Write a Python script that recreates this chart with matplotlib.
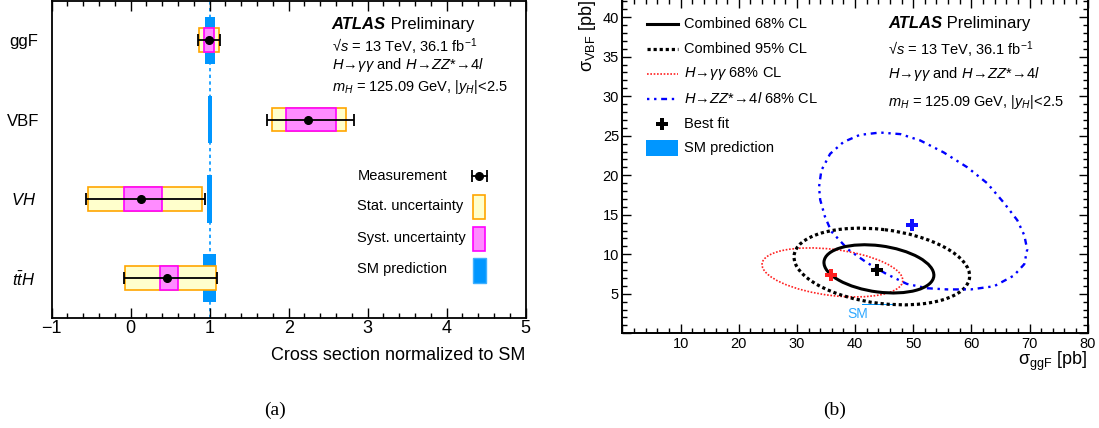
import matplotlib
matplotlib.use("Agg")
import matplotlib.pyplot as plt
from matplotlib.patches import Ellipse, Rectangle
from matplotlib.ticker import MultipleLocator
import numpy as np

plt.rcParams['font.family'] = ['Liberation Sans', 'DejaVu Sans']
plt.rcParams['mathtext.fontset'] = 'custom'
plt.rcParams['mathtext.rm'] = 'Liberation Sans'
plt.rcParams['mathtext.it'] = 'Liberation Sans:italic'
plt.rcParams['mathtext.bf'] = 'Liberation Sans:bold'
plt.rcParams['mathtext.sf'] = 'Liberation Sans'

# ---- (a) cross sections normalised to SM ----
procs = ['ggF', 'VBF', '$VH$', r'$t\bar{t}H$']
mu = [0.99, 2.25, 0.13, 0.46]
tot_lo = [0.85, 1.72, -0.57, -0.08]
tot_hi = [1.13, 2.83, 0.94, 1.09]
stat_lo = [0.86, 1.79, -0.535, -0.075]
stat_hi = [1.12, 2.72, 0.90, 1.075]
syst_lo = [0.925, 1.97, -0.09, 0.365]
syst_hi = [1.055, 2.60, 0.395, 0.605]
sm_unc = [0.065, 0.024, 0.033, 0.08]

# ---- (b) sigma_ggF vs sigma_VBF ----
best_comb = (43.8, 8.0)
best_yy = (35.8, 7.4)
best_zz = (49.8, 13.75)
# ellipse contours: centre x, centre y, half extent x, half extent y, y shift at the x extreme
comb68 = (44.1, 8.15, 9.45, 3.05, -0.8)
comb95 = (44.6, 8.45, 15.1, 4.85, -1.2)
yy68 = (36.1, 7.7, 12.1, 3.1, -1.0)
# H->ZZ*->4l 68% CL contour, read point by point
zz_x = [55.8, 52.4, 48.9, 45.4, 42.0, 38.8, 35.9, 34.8, 34.0, 33.8, 34.2, 35.7, 38.0,
        40.8, 44.3, 47.8, 51.2, 55.2, 59.3, 62.7, 65.6, 67.9, 69.1, 69.6, 69.1, 67.3,
        63.9, 59.9, 55.8]
zz_y = [5.55, 5.7, 6.25, 7.5, 8.95, 10.6, 12.9, 14.8, 16.9, 18.5, 20.6, 22.7, 24.2,
        25.1, 25.4, 25.2, 24.4, 22.9, 21.0, 19.0, 16.5, 14.3, 12.4, 10.6, 8.75, 7.3,
        5.95, 5.55, 5.55]
sm_ggf = (41.2, 46.9)
sm_vbf = (3.52, 3.73)

sm_col = '#0096ff'
stat_fc, stat_ec = '#ffffcc', '#ffa500'
syst_fc, syst_ec = '#ff8cff', '#ff00ff'

fig = plt.figure(figsize=(10.99, 4.28), dpi=100)
axL = fig.add_axes([0.04704, 0.2577, 0.4313, 0.7407])
axR = fig.add_axes([0.5664, 0.2213, 0.4233, 0.7811])


def atlas_label(ax, x, ys, lines):
    t = ax.text(x, ys[0], 'ATLAS', transform=ax.transAxes, fontsize=12,
                fontweight='bold', fontstyle='italic', va='center')
    ax.annotate(' Preliminary', xy=(1, 0), xycoords=t, fontsize=12, va='bottom')
    for y, s in zip(ys[1:], lines):
        ax.text(x, y, s, transform=ax.transAxes, fontsize=10.5, va='center')


info = [r'√$s$ = 13 TeV, 36.1 fb$^{-1}$',
        r'$H\!\rightarrow\!\gamma\gamma$ and $H\!\rightarrow\!ZZ$*$\!\rightarrow\!4l$',
        r'$m_{H}$ = 125.09 GeV, |$y_{H}$|<2.5']

# ---------- left panel ----------
ypos = np.arange(len(procs))[::-1]
axL.axvline(1.0, color=sm_col, lw=1.2, ls=(0, (2, 2)), zorder=1)
for i, y in enumerate(ypos):
    axL.barh(y, 2 * sm_unc[i], left=1 - sm_unc[i], height=0.6, color=sm_col, zorder=2)
    axL.barh(y, stat_hi[i] - stat_lo[i], left=stat_lo[i], height=0.3,
             color=stat_fc, edgecolor=stat_ec, lw=1.2, zorder=3)
    axL.barh(y, syst_hi[i] - syst_lo[i], left=syst_lo[i], height=0.3,
             color=syst_fc, edgecolor=syst_ec, lw=1.2, zorder=4)
xerr = [np.array(mu) - np.array(tot_lo), np.array(tot_hi) - np.array(mu)]
axL.errorbar(mu, ypos, xerr=xerr, fmt='o', color='black', ms=5.5, capsize=4,
             elinewidth=1.3, capthick=1.3, zorder=5)

axL.set_xlim(-1, 5)
axL.set_ylim(-0.5, 3.5)
axL.set_xticks(range(-1, 6))
axL.xaxis.set_minor_locator(MultipleLocator(0.2))
axL.set_yticks(ypos)
axL.set_yticklabels(procs)
for lab in axL.get_yticklabels():
    lab.set_ha('center')
axL.tick_params(axis='x', which='both', direction='in', top=True, bottom=True,
                labelsize=13, pad=1.5, width=1.0)
axL.tick_params(axis='x', which='major', length=7)
axL.tick_params(axis='x', which='minor', length=3.8)
axL.tick_params(axis='y', length=0, labelsize=12, pad=20.3)
for s in axL.spines.values():
    s.set_linewidth(1.3)
axL.set_xlabel('Cross section normalized to SM', fontsize=13, loc='right')
axL.xaxis.set_label_coords(1.0, -0.1177)
axL.xaxis.label.set_va('center')

atlas_label(axL, 0.5905, [0.9256, 0.8549, 0.7972, 0.7268], info)

tA = axL.transAxes
axL.text(0.645, 0.448, 'Measurement', transform=tA, fontsize=10.5, va='center')
axL.text(0.645, 0.3533, 'Stat. uncertainty', transform=tA, fontsize=10.5, va='center')
axL.text(0.645, 0.2505, 'Syst. uncertainty', transform=tA, fontsize=10.5, va='center')
axL.text(0.645, 0.1527, 'SM prediction', transform=tA, fontsize=10.5, va='center')
axL.plot([0.8857, 0.919], [0.448, 0.448], transform=tA, color='k', lw=1.3)
axL.plot([0.8857, 0.919], [0.448, 0.448], transform=tA, ls='none', marker='|',
         ms=8, mew=1.3, color='k')
axL.plot([0.9023], [0.448], transform=tA, marker='o', ms=5.5, color='k')
axL.add_patch(Rectangle((0.8892, 0.3114), 0.0253, 0.0757, transform=tA,
                        fc=stat_fc, ec=stat_ec, lw=1.2))
axL.add_patch(Rectangle((0.8892, 0.2114), 0.0253, 0.0757, transform=tA,
                        fc=syst_fc, ec=syst_ec, lw=1.2))
axL.add_patch(Rectangle((0.8892, 0.1085), 0.026, 0.0789, transform=tA,
                        fc=sm_col, ec='#40b0ff', lw=1.0))


# ---------- right panel ----------
def contour_ellipse(par, **kw):
    cx, cy, hx, hy, d = par
    cov = np.array([[hx * hx, hx * d], [hx * d, hy * hy]])
    vals, vecs = np.linalg.eigh(cov)
    ang = np.degrees(np.arctan2(vecs[1, 1], vecs[0, 1]))
    return Ellipse((cx, cy), 2 * np.sqrt(vals[1]), 2 * np.sqrt(vals[0]), angle=ang,
                   fill=False, **kw)


st_comb68 = dict(color='black', lw=2.2, ls='-')
st_comb95 = dict(color='black', lw=2.3, ls=(0, (1, 0.9)))
st_yy = dict(color='#ff2020', lw=1.2, ls=(0, (1, 1)))
st_zz = dict(color='#0000ff', lw=1.7, ls=(0, (1, 2, 1, 2, 2.5, 2)))

axR.barh(np.mean(sm_vbf), sm_ggf[1] - sm_ggf[0], left=sm_ggf[0],
         height=sm_vbf[1] - sm_vbf[0], color=sm_col, zorder=1)
axR.text(sm_ggf[0] - 0.7, np.mean(sm_vbf) - 1.15, 'SM', color='#30a8ff',
         fontsize=10, ha='center', va='center')
axR.add_patch(contour_ellipse(yy68, zorder=2, **st_yy))
axR.add_patch(contour_ellipse(comb95, zorder=3, **st_comb95))
axR.plot(zz_x, zz_y, zorder=3, **st_zz)
axR.add_patch(contour_ellipse(comb68, zorder=4, **st_comb68))
axR.plot(*best_yy, marker='P', ms=8, color='#ff2020', mew=0, zorder=5)
axR.plot(*best_zz, marker='P', ms=8, color='#1010ff', mew=0, zorder=5)
axR.plot(*best_comb, marker='P', ms=8, color='black', mew=0, zorder=5)

axR.set_xlim(0, 80)
axR.set_ylim(0, 42.3)
axR.set_xticks(range(0, 81, 10))
axR.set_xticklabels([''] + [str(v) for v in range(10, 81, 10)])
axR.set_yticks(range(0, 41, 5))
axR.set_yticklabels([''] + [str(v) for v in range(5, 41, 5)])
axR.xaxis.set_minor_locator(MultipleLocator(2))
axR.yaxis.set_minor_locator(MultipleLocator(1))
axR.tick_params(which='both', direction='in', top=True, right=True,
                labelsize=10.5, pad=2.5, width=1.0)
axR.tick_params(which='major', length=6.5)
axR.tick_params(which='minor', length=3.3)
for s in axR.spines.values():
    s.set_linewidth(1.4)
axR.set_xlabel(r'σ$_{\mathrm{ggF}}$ [pb]', fontsize=13, loc='right')
axR.xaxis.set_label_coords(1.0, -0.0829)
axR.xaxis.label.set_va('center')
axR.set_ylabel(r'σ$_{\mathrm{VBF}}$ [pb]', fontsize=13, loc='top')
axR.yaxis.set_label_coords(-0.0527, 0.996)

atlas_label(axR, 0.5711, [0.9273, 0.8474, 0.7744, 0.6928], info)

tB = axR.transAxes
leg_rows = [0.9243, 0.8495, 0.7757, 0.7009, 0.6261, 0.5552]
leg_text = ['Combined 68% CL', 'Combined 95% CL', r'$H\!\rightarrow\!\gamma\gamma$ 68% CL',
            r'$H\!\rightarrow\!ZZ$*$\!\rightarrow\!4l$ 68% CL', 'Best fit', 'SM prediction']
for y, s in zip(leg_rows, leg_text):
    axR.text(0.1328, y, s, transform=tB, fontsize=10.5, va='center')
for y, st in zip(leg_rows[:4], [st_comb68, st_comb95, st_yy, st_zz]):
    axR.plot([0.052, 0.1187], [y, y], transform=tB, **st)
axR.plot([0.0858], [leg_rows[4]], transform=tB, marker='P', ms=8, mew=0, color='black')
axR.add_patch(Rectangle((0.0503, 0.5304), 0.0688, 0.0478, transform=tB,
                        fc=sm_col, ec='none'))

fig.text(0.2501, 0.0421, '(a)', family='Liberation Serif', fontsize=14,
         ha='center', va='center')
fig.text(0.7597, 0.0421, '(b)', family='Liberation Serif', fontsize=14,
         ha='center', va='center')

fig.savefig('out.png', dpi=100)
